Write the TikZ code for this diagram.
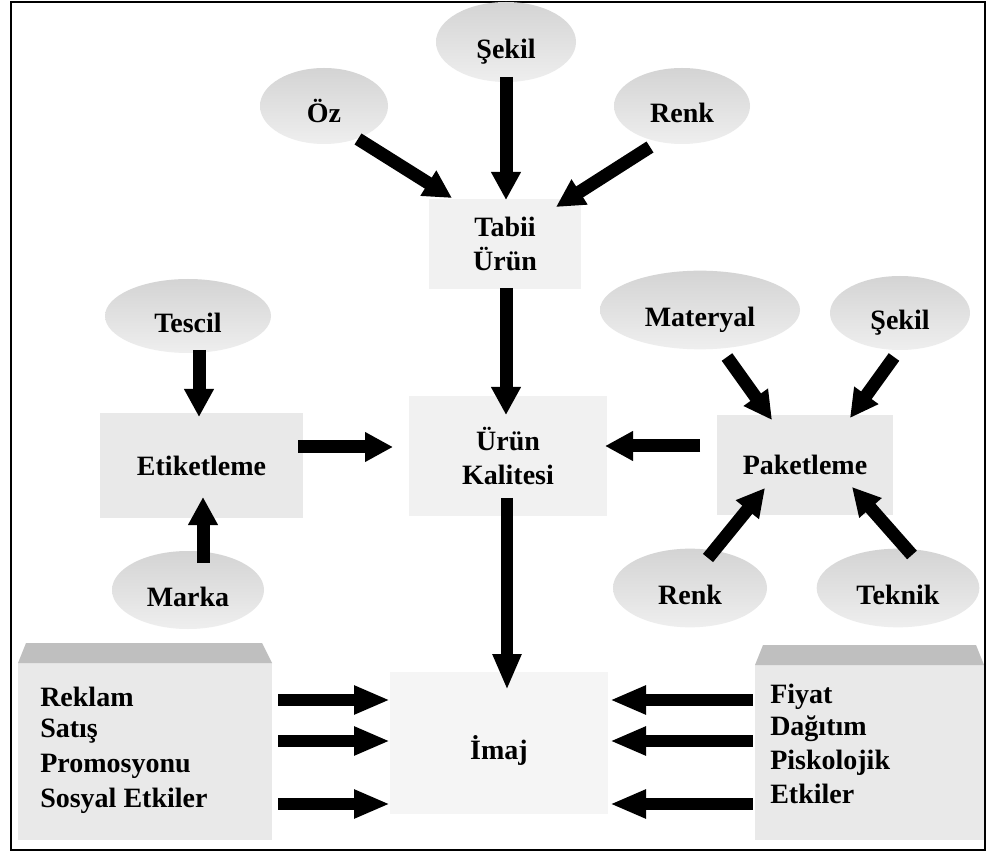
\documentclass[tikz,border=0pt]{standalone}
\usepackage{fontspec}
\setmainfont{Liberation Serif}
\usetikzlibrary{arrows.meta,shapes.geometric,calc}
\begin{document}
\begin{tikzpicture}[x=0.75pt,y=-0.75pt,
  font=\fontsize{21}{25.5}\selectfont\bfseries,
  ell/.style={ellipse, inner sep=0pt, top color=gray!34, bottom color=gray!13, draw=none,
              text height=25pt, text depth=0pt},
  box/.style={rectangle, inner sep=0pt, fill=gray!17, align=center},
  lite/.style={rectangle, inner sep=0pt, fill=gray!11, align=center},
  pale/.style={rectangle, inner sep=0pt, fill=gray!8, text height=25pt, text depth=0pt},
  band/.style={fill=gray!50},
  lbl/.style={anchor=base west, inner sep=0pt},
  blk/.style={line width=9.75pt, -{Triangle[length=21pt,width=21pt]}},
  blkL/.style={line width=9pt, -{Triangle[length=27pt,width=20pt]}},
]
\useasboundingbox (0,0) rectangle (1007,855);
\fill[white] (0,0) rectangle (1007,855);
\draw[line width=1.8pt] (11,2) rectangle (985,850);

% top group
\node[ell, minimum width=105pt, minimum height=60pt] (sekT) at (506,42) {Şekil};
\node[ell, minimum width=96pt, minimum height=57pt] (oz) at (324,106) {Öz};
\node[ell, minimum width=102pt, minimum height=57pt] (renkT) at (682,106) {Renk};
\node[lite, minimum width=114pt, minimum height=67.5pt] (tabii) at (505,244) {Tabii\\Ürün};

% middle
\node[ell, minimum width=124.5pt, minimum height=55.5pt] (tescil) at (188,316) {Tescil};
\node[box, minimum width=152pt, minimum height=79pt] (etik) at (201.5,465.5) {Etiketleme};
\node[ell, minimum width=114pt, minimum height=58.5pt] (marka) at (188,590) {Marka};
\node[lite, minimum width=148pt, minimum height=90pt] (uk) at (508,456) {Ürün\\Kalitesi};
\node[box, minimum width=132pt, minimum height=75pt] (paket) at (805,465) {Paketleme};
\node[ell, minimum width=150pt, minimum height=59pt] (mat) at (700,310) {Materyal};
\node[ell, minimum width=105pt, minimum height=55.5pt] (sekR) at (900,313) {Şekil};
\node[ell, minimum width=115.5pt, minimum height=59pt] (renkB) at (690,588) {Renk};
\node[ell, minimum width=122pt, minimum height=59pt] (teknik) at (898,588) {Teknik};

% bottom
\node[pale, minimum width=163.5pt, minimum height=107pt] (imaj) at (499,743) {İmaj};
\node[box, minimum width=190.5pt, minimum height=132.75pt] (lbox) at (145,751.5) {};
\fill[band] (18,663) -- (26,643) -- (262,643) -- (272,663) -- cycle;
\node[box, minimum width=171.75pt, minimum height=131.25pt] (rbox) at (869.5,752.5) {};
\fill[band] (755,665) -- (763,645) -- (976,645) -- (984,665) -- cycle;

\node[lbl] (t1) at (40,706) {Reklam};
\node[lbl] (t2) at (40,737) {Satış};
\node[lbl] (t3) at (40,772) {Promosyonu};
\node[lbl] (t4) at (40,807) {Sosyal Etkiler};
\node[lbl] (r1) at (770,703) {Fiyat};
\node[lbl] (r2) at (770,735) {Dağıtım};
\node[lbl] (r3) at (770,769) {Piskolojik};
\node[lbl] (r4) at (770,803) {Etkiler};

% arrows top
\draw[blk] ($(sekT)+(0,35)$) -- ($(tabii)+(1,-44)$);
\draw[blk] ($(oz)+(34,33)$) -- ($(tabii)+(-53,-46)$);
\draw[blk] ($(renkT)+(-32,41)$) -- ($(tabii)+(51,-37)$);
\draw[blk] ($(tabii)+(1,44)$) -- ($(uk)+(-2,-41)$);

% arrows left
\draw[blk] ($(tescil)+(11,34)$) -- ($(etik)+(-2.5,-48.5)$);
\draw[blk] ($(marka)+(15,-27)$) -- ($(etik)+(1.5,31.5)$);
\draw[blk] ($(etik)+(96.5,-18.5)$) -- ($(uk)+(-115,-9)$);

% arrows right
\draw[blk] ($(paket)+(-105,-19)$) -- ($(uk)+(97,-10)$);
\draw[blk] ($(mat)+(27,47)$) -- ($(paket)+(-33,-45)$);
\draw[blk] ($(sekR)+(-6,44)$) -- ($(paket)+(45,-47)$);
\draw[blk] ($(renkB)+(18,-30)$) -- ($(paket)+(-40,23)$);
\draw[blk] ($(teknik)+(14,-33)$) -- ($(paket)+(47,22)$);

% to image
\draw[blkL] ($(uk)+(-1,42)$) -- ($(imaj)+(8,-53)$);
\draw[blkL] ($(lbox)+(133,-51.5)$) -- ($(imaj)+(-109,-43)$);
\draw[blkL] ($(lbox)+(133,-10.5)$) -- ($(imaj)+(-109,-2)$);
\draw[blkL] ($(lbox)+(133,52.5)$) -- ($(imaj)+(-109,61)$);
\draw[blkL] ($(rbox)+(-117,-52.5)$) -- ($(imaj)+(111,-43)$);
\draw[blkL] ($(rbox)+(-117,-11.5)$) -- ($(imaj)+(111,-2)$);
\draw[blkL] ($(rbox)+(-117,51.5)$) -- ($(imaj)+(111,61)$);
\end{tikzpicture}
\end{document}
